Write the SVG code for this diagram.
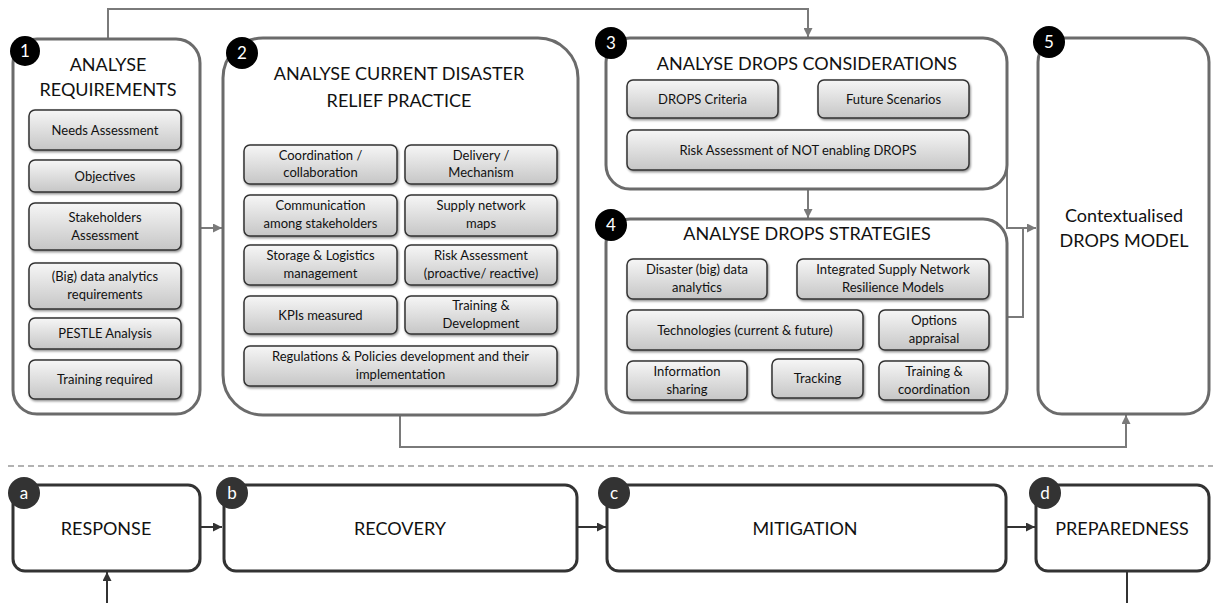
<svg xmlns="http://www.w3.org/2000/svg" width="1213" height="603" viewBox="0 0 1213 603">
<defs>
<linearGradient id="g" x1="0" y1="0" x2="0" y2="1">
<stop offset="0" stop-color="#f6f6f6"/>
<stop offset="1" stop-color="#c6c6c6"/>
</linearGradient>
<filter id="sh" x="-10%" y="-20%" width="120%" height="150%">
<feDropShadow dx="1" dy="1.5" stdDeviation="1" flood-color="#000" flood-opacity="0.45"/>
</filter>
<marker id="ag" viewBox="0 0 10 10" refX="10" refY="5" markerWidth="9" markerHeight="9" markerUnits="userSpaceOnUse" orient="auto">
<path d="M0,0 L10,5 L0,10 z" fill="#7a7a7a"/>
</marker>
<marker id="ad" viewBox="0 0 10 10" refX="10" refY="5" markerWidth="9" markerHeight="9" markerUnits="userSpaceOnUse" orient="auto">
<path d="M0,0 L10,5 L0,10 z" fill="#333"/>
</marker>
</defs>
<style>
.outer{fill:#fff;stroke:#6b6b6b;stroke-width:3}
.phase{fill:#fff;stroke:#333;stroke-width:3}
.in{fill:url(#g);stroke:#333;stroke-width:1.5;filter:url(#sh)}
.t{font-family:Lato,"Liberation Sans",sans-serif;fill:#111;text-anchor:middle}
.ti{font-size:18px}
.s{font-size:13px}
.num{font-family:Lato,"Liberation Sans",sans-serif;font-size:17px;fill:#fff;text-anchor:middle}
.cg{fill:none;stroke:#7a7a7a;stroke-width:2}
.cd{fill:none;stroke:#333;stroke-width:2}
</style>
<rect width="1213" height="603" fill="#fff"/>

<g id="connectors">
<path class="cg" d="M108,38 V9 H808 V37" marker-end="url(#ag)"/>
<path class="cg" d="M200,228 H222" marker-end="url(#ag)"/>
<path class="cg" d="M808,189 V218" marker-end="url(#ag)"/>
<path class="cg" d="M1007,110 V228 H1036" marker-end="url(#ag)"/>
<path class="cg" d="M1007,317 H1023 V228"/>
<path class="cg" d="M400,415 V447 H1126 V415" marker-end="url(#ag)"/>
<line x1="8" y1="466" x2="1213" y2="466" stroke="#999" stroke-width="1.5" stroke-dasharray="6,4"/>
<path class="cd" d="M200,527 H222" marker-end="url(#ad)"/>
<path class="cd" d="M577,527 H606" marker-end="url(#ad)"/>
<path class="cd" d="M1006,527 H1035" marker-end="url(#ad)"/>
<path class="cd" d="M1127,572 V603"/>
<path class="cd" d="M107,603 V572" marker-end="url(#ad)"/>
</g>

<g id="node1">
<rect class="outer" x="13" y="39" width="187" height="375" rx="24"/>
<circle cx="25" cy="51" r="15" fill="#000"/>
<text class="num" x="25" y="57">1</text>
<text class="t ti" x="108" y="71">ANALYSE</text>
<text class="t ti" x="108" y="96">REQUIREMENTS</text>
<rect class="in" x="29" y="110" width="152" height="40" rx="6"/>
<text class="t s" x="105" y="134.5">Needs Assessment</text>
<rect class="in" x="29" y="160" width="152" height="32" rx="6"/>
<text class="t s" x="105" y="180.5">Objectives</text>
<rect class="in" x="29" y="203" width="152" height="47" rx="6"/>
<text class="t s" x="105" y="222">Stakeholders</text>
<text class="t s" x="105" y="240">Assessment</text>
<rect class="in" x="29" y="263" width="152" height="46" rx="6"/>
<text class="t s" x="105" y="281">(Big) data analytics</text>
<text class="t s" x="105" y="299">requirements</text>
<rect class="in" x="29" y="318" width="152" height="31" rx="6"/>
<text class="t s" x="105" y="338">PESTLE Analysis</text>
<rect class="in" x="29" y="360" width="152" height="39" rx="6"/>
<text class="t s" x="105" y="384">Training required</text>
</g>

<g id="node2">
<rect class="outer" x="223" y="38" width="355" height="377" rx="40"/>
<circle cx="242" cy="53" r="16" fill="#000"/>
<text class="num" x="242" y="59">2</text>
<text class="t ti" x="399" y="80">ANALYSE CURRENT DISASTER</text>
<text class="t ti" x="399" y="107">RELIEF PRACTICE</text>
<rect class="in" x="244" y="145" width="153" height="39" rx="6"/>
<text class="t s" x="320.5" y="160">Coordination /</text>
<text class="t s" x="320.5" y="177">collaboration</text>
<rect class="in" x="405" y="145" width="152" height="39" rx="6"/>
<text class="t s" x="481" y="160">Delivery /</text>
<text class="t s" x="481" y="177">Mechanism</text>
<rect class="in" x="244" y="195" width="153" height="41" rx="6"/>
<text class="t s" x="320.5" y="210">Communication</text>
<text class="t s" x="320.5" y="228">among stakeholders</text>
<rect class="in" x="405" y="195" width="152" height="41" rx="6"/>
<text class="t s" x="481" y="210">Supply network</text>
<text class="t s" x="481" y="228">maps</text>
<rect class="in" x="244" y="245" width="153" height="40" rx="6"/>
<text class="t s" x="320.5" y="260">Storage &amp; Logistics</text>
<text class="t s" x="320.5" y="278">management</text>
<rect class="in" x="405" y="245" width="152" height="40" rx="6"/>
<text class="t s" x="481" y="260">Risk Assessment</text>
<text class="t s" x="481" y="278">(proactive/ reactive)</text>
<rect class="in" x="244" y="296" width="153" height="38" rx="6"/>
<text class="t s" x="320.5" y="319.5">KPIs measured</text>
<rect class="in" x="405" y="296" width="152" height="38" rx="6"/>
<text class="t s" x="481" y="310">Training &amp;</text>
<text class="t s" x="481" y="328">Development</text>
<rect class="in" x="244" y="346" width="313" height="40" rx="6"/>
<text class="t s" x="400.5" y="361">Regulations &amp; Policies  development and their</text>
<text class="t s" x="400.5" y="379">implementation</text>
</g>

<g id="node3">
<rect class="outer" x="606" y="38" width="401" height="151" rx="24"/>
<circle cx="611" cy="43" r="16" fill="#000"/>
<text class="num" x="611" y="49">3</text>
<text class="t ti" x="807" y="70">ANALYSE DROPS CONSIDERATIONS</text>
<rect class="in" x="627" y="80" width="151" height="38" rx="6"/>
<text class="t s" x="702.5" y="103.5">DROPS Criteria</text>
<rect class="in" x="818" y="80" width="151" height="38" rx="6"/>
<text class="t s" x="893.5" y="103.5">Future Scenarios</text>
<rect class="in" x="627" y="130" width="342" height="40" rx="6"/>
<text class="t s" x="798" y="154.5">Risk Assessment of NOT enabling DROPS</text>
</g>

<g id="node4">
<rect class="outer" x="606" y="219" width="401" height="194" rx="24"/>
<circle cx="611" cy="225" r="16" fill="#000"/>
<text class="num" x="611" y="231">4</text>
<text class="t ti" x="807" y="240">ANALYSE DROPS STRATEGIES</text>
<rect class="in" x="627" y="259" width="140" height="40" rx="6"/>
<text class="t s" x="697" y="274">Disaster (big) data</text>
<text class="t s" x="697" y="292">analytics</text>
<rect class="in" x="797" y="259" width="192" height="40" rx="6"/>
<text class="t s" x="893" y="274">Integrated Supply Network</text>
<text class="t s" x="893" y="292">Resilience  Models</text>
<rect class="in" x="627" y="310" width="236" height="40" rx="6"/>
<text class="t s" x="745" y="334.5">Technologies  (current &amp; future)</text>
<rect class="in" x="879" y="310" width="110" height="40" rx="6"/>
<text class="t s" x="934" y="325">Options</text>
<text class="t s" x="934" y="343">appraisal</text>
<rect class="in" x="627" y="361" width="120" height="39" rx="6"/>
<text class="t s" x="687" y="375.5">Information</text>
<text class="t s" x="687" y="393.5">sharing</text>
<rect class="in" x="772" y="359" width="91" height="39" rx="6"/>
<text class="t s" x="817.5" y="383">Tracking</text>
<rect class="in" x="879" y="361" width="110" height="39" rx="6"/>
<text class="t s" x="934" y="375.5">Training &amp;</text>
<text class="t s" x="934" y="393.5">coordination</text>
</g>

<g id="node5">
<rect class="outer" x="1038" y="38" width="171" height="376" rx="24"/>
<circle cx="1049" cy="42" r="16" fill="#000"/>
<text class="num" x="1049" y="48">5</text>
<text class="t ti" x="1124" y="222">Contextualised</text>
<text class="t ti" x="1124" y="247">DROPS MODEL</text>
</g>

<g id="phaseA">
<rect class="phase" x="13" y="485" width="187" height="86" rx="12"/>
<circle cx="24" cy="493" r="16" fill="#333"/>
<text class="num" x="24" y="499">a</text>
<text class="t ti" x="106" y="535">RESPONSE</text>
</g>
<g id="phaseB">
<rect class="phase" x="224" y="485" width="353" height="86" rx="12"/>
<circle cx="232" cy="493" r="16" fill="#333"/>
<text class="num" x="232" y="499">b</text>
<text class="t ti" x="400" y="535">RECOVERY</text>
</g>
<g id="phaseC">
<rect class="phase" x="607" y="485" width="399" height="86" rx="12"/>
<circle cx="614" cy="493" r="16" fill="#333"/>
<text class="num" x="614" y="499">c</text>
<text class="t ti" x="805" y="535">MITIGATION</text>
</g>
<g id="phaseD">
<rect class="phase" x="1036" y="485" width="173" height="86" rx="12"/>
<circle cx="1045" cy="493" r="16" fill="#333"/>
<text class="num" x="1045" y="499">d</text>
<text class="t ti" x="1122" y="535">PREPAREDNESS</text>
</g>
</svg>
